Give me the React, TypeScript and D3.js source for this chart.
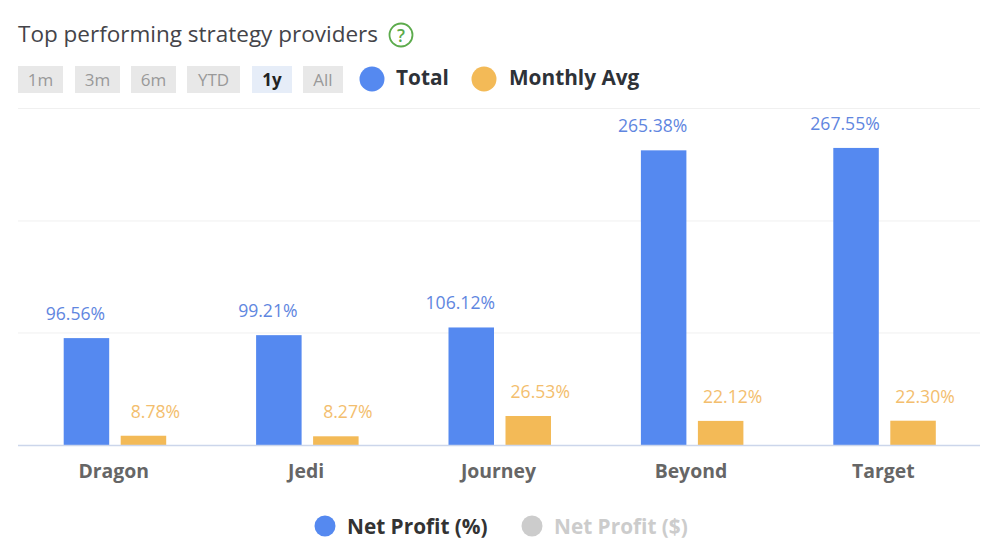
import React from "react";
import * as d3 from "d3";

const categories = ["Dragon", "Jedi", "Journey", "Beyond", "Target"];
const totalValues = [96.56, 99.21, 106.12, 265.38, 267.55];
const monthlyValues = [8.78, 8.27, 26.53, 22.12, 22.3];
const gridValues = [101.2, 201.9, 303];
const rangeButtons = ["1m", "3m", "6m", "YTD", "1y", "All"];
const buttonLefts = [18, 75, 131, 187, 252, 303];
const buttonWidths = [45, 45, 45, 53, 40, 40];

const FONT = "'Open Sans', sans-serif";
const BLUE = "#5589F0";
const ORANGE = "#F3BA57";

export default function App() {
  const x = d3.scaleBand<string>().domain(categories).range([17.5, 979.5]);
  const y = d3.scaleLinear().domain([0, 303]).range([445.5, 108.5]);
  const cx = (c: string) => (x(c) as number) + x.bandwidth() / 2;
  const bw = 45.5;
  const bx = (c: string, k: "total" | "monthly") => cx(c) + (k === "total" ? -50 : 7);

  return (
    <svg width={1000} height={551} viewBox="0 0 1000 551" style={{ position: "absolute", left: 0, top: 0, background: "#fff" }} fontFamily={FONT}>
      <text x={18} y={42} fontSize={22.5} fill="#444449">Top performing strategy providers</text>
      <circle cx={401} cy={35} r={11.5} fill="none" stroke="#5CAB4C" strokeWidth={1.8} />
      <text x={401} y={41.5} fontSize={17.5} fontWeight={600} fill="#5CAB4C" textAnchor="middle">?</text>

      {rangeButtons.map((b, i) => {
        const active = b === "1y";
        return (
          <g key={b}>
            <rect x={buttonLefts[i]} y={66} width={buttonWidths[i]} height={27} fill={active ? "#E6EDF8" : "#E8E8E8"} />
            <text x={buttonLefts[i] + buttonWidths[i] / 2} y={86} fontSize={17} textAnchor="middle"
              fontWeight={active ? 700 : 400} fill={active ? "#222" : "#999"}>{b}</text>
          </g>
        );
      })}

      <circle cx={372} cy={79} r={12.5} fill={BLUE} />
      <text x={396} y={85} fontSize={20.8} fontWeight={700} fill="#2e3238">Total</text>
      <circle cx={484} cy={79} r={12.5} fill={ORANGE} />
      <text x={509} y={85} fontSize={20.8} fontWeight={700} fill="#2e3238">Monthly Avg</text>

      {gridValues.map((g) => (
        <line key={g} x1={18} x2={980} y1={y(g)} y2={y(g)} stroke="#F0F0F0" strokeWidth={1} />
      ))}

      {categories.map((c, i) => (
        <g key={c}>
          <rect x={bx(c, "total")} y={y(totalValues[i])} width={bw} height={y(0) - y(totalValues[i])} fill={BLUE} />
          <rect x={bx(c, "monthly")} y={y(monthlyValues[i])} width={bw} height={y(0) - y(monthlyValues[i])} fill={ORANGE} />
          <text x={bx(c, "total") + bw / 2 - 11} y={y(totalValues[i]) - 18} fontSize={17.6} textAnchor="middle" fill="#5F86E0">
            {totalValues[i].toFixed(2)}%
          </text>
          <text x={bx(c, "monthly") + bw / 2 + 12} y={y(monthlyValues[i]) - 18} fontSize={17.6} textAnchor="middle" fill="#F3BE6E">
            {monthlyValues[i].toFixed(2)}%
          </text>
          <text x={cx(c)} y={478} fontSize={19.4} fontWeight={700} textAnchor="middle" fill="#666">{c}</text>
        </g>
      ))}
      <line x1={18} x2={980} y1={445.5} y2={445.5} stroke="#CCD6EB" strokeWidth={1.5} />

      <circle cx={325} cy={526} r={10.5} fill={BLUE} />
      <text x={347} y={534} fontSize={20.8} fontWeight={700} fill="#333">Net Profit (%)</text>
      <circle cx={532} cy={526} r={10.5} fill="#CCCCCC" />
      <text x={554} y={534} fontSize={20.8} fontWeight={700} fill="#CCCCCC">Net Profit ($)</text>
    </svg>
  );
}
